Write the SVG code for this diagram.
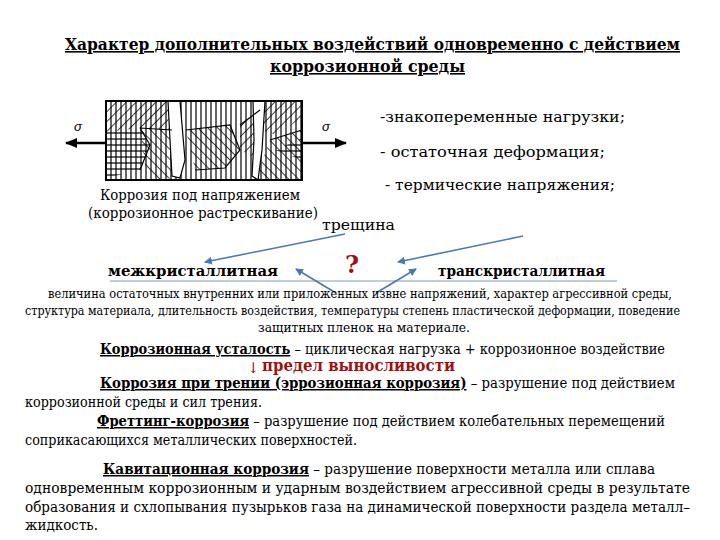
<svg xmlns="http://www.w3.org/2000/svg" width="720" height="540" viewBox="0 0 720 540" font-family="'DejaVu Serif', 'Liberation Serif', serif">
<style>
.t{fill:#000}
.b{font-weight:bold}
.u{text-decoration:underline}
.r{fill:#a01010}
.ar{stroke:#4a7ab5;stroke-width:1.6;fill:none;marker-end:url(#ah)}
</style>
<defs>
<marker id="ah" markerWidth="8" markerHeight="8" refX="7" refY="4" orient="auto" markerUnits="userSpaceOnUse"><path d="M0,0 L8,4 L0,8 z" fill="#4a7ab5"/></marker>
<marker id="bk" markerWidth="12" markerHeight="10" refX="11" refY="5" orient="auto" markerUnits="userSpaceOnUse"><path d="M0,0 L12,5 L0,10 z" fill="#000"/></marker>
<pattern id="d1" width="7" height="7" patternUnits="userSpaceOnUse" patternTransform="rotate(45)"><line x1="0" y1="0" x2="0" y2="7" stroke="#000" stroke-width="1.5"/></pattern>
<pattern id="d2" width="7" height="7" patternUnits="userSpaceOnUse" patternTransform="rotate(-45)"><line x1="0" y1="0" x2="0" y2="7" stroke="#000" stroke-width="1.5"/></pattern>
<pattern id="v" width="5" height="5" patternUnits="userSpaceOnUse"><line x1="1" y1="0" x2="1" y2="5" stroke="#000" stroke-width="1.2"/></pattern>
<pattern id="h" width="6" height="6" patternUnits="userSpaceOnUse"><line x1="0" y1="1" x2="6" y2="1" stroke="#000" stroke-width="1.2"/></pattern>
</defs>
<g id="title">
<text class="t b u" x="65" y="50" font-size="16" textLength="615" lengthAdjust="spacingAndGlyphs">Характер дополнительных воздействий  одновременно с действием</text>
<text class="t b u" x="270" y="72" font-size="16" textLength="195" lengthAdjust="spacingAndGlyphs">коррозионной среды</text>
</g>
<g id="micro">
<rect x="106" y="101" width="196" height="79" fill="url(#v)"/>
<path d="M106,101 L170,101 L172,130 L140,128 L106,132 Z" fill="url(#d1)"/>
<path d="M106,132 L140,128 L150,145 L140,170 L106,178 Z" fill="url(#h)"/>
<path d="M140,128 L172,130 L180,150 L175,178 L155,180 L145,165 Z" fill="url(#d2)"/>
<path d="M186,130 L230,125 L240,150 L225,168 L195,170 Z" fill="url(#d2)"/>
<path d="M240,125 L260,110 L260,160 L240,150 Z" fill="url(#d1)"/>
<path d="M262,101 L302,101 L302,118 L275,135 L262,130 Z" fill="url(#d1)"/>
<path d="M270,140 L302,130 L302,180 L255,180 Z" fill="url(#d2)"/>
<path d="M275,150 L302,138 L302,160 Z" fill="url(#h)"/>
<path d="M168,101 L180,101 L185,160 L180,178 L172,176 L170,140 Z" fill="#fff" stroke="#000" stroke-width="1.2"/>
<path d="M253,101 L265,101 L262,150 L258,180 L252,176 L254,140 Z" fill="#fff" stroke="#000" stroke-width="1.2"/>
<path d="M130,101 L170,101 M140,128 L172,130 M186,130 L230,125 L240,150 L225,168 L195,170 M240,125 L260,110 M140,128 L150,145 L140,170 M270,140 L302,130" stroke="#000" stroke-width="1.2" fill="none"/>
<rect x="106" y="101" width="196" height="79" fill="none" stroke="#000" stroke-width="2"/>
<line x1="106" y1="143" x2="66" y2="143" stroke="#000" stroke-width="2.5" marker-end="url(#bk)"/>
<line x1="302" y1="143" x2="346" y2="143" stroke="#000" stroke-width="2.5" marker-end="url(#bk)"/>
<text x="74" y="131" font-family="Liberation Sans,sans-serif" font-size="13" font-style="italic">σ</text>
<text x="322" y="131" font-family="Liberation Sans,sans-serif" font-size="13" font-style="italic">σ</text>
</g>
<g id="list">
<text class="t" x="380" y="122" font-size="15" textLength="245" lengthAdjust="spacingAndGlyphs">-знакопеременные нагрузки;</text>
<text class="t" x="380" y="157" font-size="15" textLength="225" lengthAdjust="spacingAndGlyphs">- остаточная деформация;</text>
<text class="t" x="385" y="190" font-size="15" textLength="230" lengthAdjust="spacingAndGlyphs">- термические напряжения;</text>
</g>
<g id="crack">
<text class="t" x="100" y="200" font-size="14" textLength="200" lengthAdjust="spacingAndGlyphs">Коррозия под напряжением</text>
<text class="t" x="88" y="218" font-size="14" textLength="230" lengthAdjust="spacingAndGlyphs">(коррозионное растрескивание)</text>
<text class="t" x="322" y="230" font-size="15" textLength="73" lengthAdjust="spacingAndGlyphs">трещина</text>
</g>
<g id="kinds">
<text class="t b" x="108" y="276" font-size="15" textLength="170" lengthAdjust="spacingAndGlyphs">межкристаллитная</text>
<text class="t b r" x="345" y="273" font-size="24">?</text>
<text class="t b" x="438" y="276" font-size="15" textLength="167" lengthAdjust="spacingAndGlyphs">транскристаллитная</text>
<line x1="110" y1="281" x2="617" y2="281" stroke="#7a9cc5" stroke-width="1.2"/>
</g>
<g id="connectors">
<line class="ar" x1="345" y1="234" x2="205" y2="262"/>
<line class="ar" x1="523" y1="236" x2="398" y2="262"/>
<line class="ar" x1="336" y1="293" x2="296" y2="269"/>
<line class="ar" x1="376" y1="293" x2="416" y2="269"/>
</g>
<g id="body">
<text class="t" x="48" y="298" font-size="12" textLength="624" lengthAdjust="spacingAndGlyphs">величина остаточных внутренних или приложенных извне напряжений, характер агрессивной среды,</text>
<text class="t" x="25" y="315" font-size="12" textLength="655" lengthAdjust="spacingAndGlyphs">структура материала, длительность воздействия, температуры степень пластической деформации, поведение</text>
<text class="t" x="258" y="332" font-size="12" textLength="212" lengthAdjust="spacingAndGlyphs">защитных пленок на материале.</text>
<text class="t" x="100" y="354" font-size="15" textLength="565" lengthAdjust="spacingAndGlyphs"><tspan class="b u">Коррозионная усталость</tspan> – циклическая нагрузка + коррозионное воздействие</text>
<text class="t r" x="247" y="373" font-size="15">↓</text>
<text class="t b r" x="262" y="371" font-size="16" textLength="193" lengthAdjust="spacingAndGlyphs">предел выносливости</text>
<text class="t" x="100" y="388" font-size="15" textLength="575" lengthAdjust="spacingAndGlyphs"><tspan class="b u">Коррозия при трении (эррозионная коррозия)</tspan> – разрушение под действием</text>
<text class="t" x="25" y="407" font-size="14" textLength="237" lengthAdjust="spacingAndGlyphs">коррозионной среды и сил трения.</text>
<text class="t" x="97" y="426" font-size="15" textLength="568" lengthAdjust="spacingAndGlyphs"><tspan class="b u">Фреттинг-коррозия</tspan> – разрушение под действием колебательных перемещений</text>
<text class="t" x="25" y="445" font-size="14" textLength="332" lengthAdjust="spacingAndGlyphs">соприкасающихся металлических поверхностей.</text>
<text class="t" x="103" y="474" font-size="15" textLength="552" lengthAdjust="spacingAndGlyphs"><tspan class="b u">Кавитационная коррозия</tspan> – разрушение поверхности металла или сплава</text>
<text class="t" x="25" y="493" font-size="14" textLength="665" lengthAdjust="spacingAndGlyphs">одновременным коррозионным и ударным воздействием агрессивной среды в результате</text>
<text class="t" x="25" y="512" font-size="14" textLength="665" lengthAdjust="spacingAndGlyphs">образования и схлопывания пузырьков газа на динамической поверхности раздела металл–</text>
<text class="t" x="25" y="530" font-size="14" textLength="73" lengthAdjust="spacingAndGlyphs">жидкость.</text>
</g>
</svg>
